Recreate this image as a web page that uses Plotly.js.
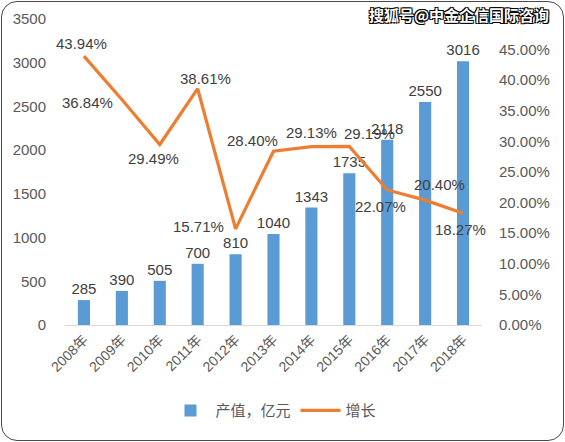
<!DOCTYPE html>
<html>
<head>
<meta charset="utf-8">
<script src="https://cdn.plot.ly/plotly-3.0.1.min.js"></script>
<style>
html,body{margin:0;padding:0;background:#fff;}
#wrap{position:relative;width:565px;height:442px;}
#chart{width:565px;height:442px;}
#frame{position:absolute;left:1px;top:1px;width:563px;height:440px;border:1.5px solid #4a4a4a;border-radius:16px;pointer-events:none;box-sizing:border-box;}
</style>
</head>
<body>
<div id="wrap"><div id="chart"></div><div id="frame"></div></div>
<script>
const years = ['2008年','2009年','2010年','2011年','2012年','2013年','2014年','2015年','2016年','2017年','2018年'];
const output = [285, 390, 505, 700, 810, 1040, 1343, 1735, 2118, 2550, 3016];
const growth = [43.94, 36.84, 29.49, 38.61, 15.71, 28.40, 29.13, 29.19, 22.07, 20.40, 18.27];
const seriesNames = ['产值，亿元', '增长'];
const watermark = '搜狐号@中金企信国际咨询';
// pixel offsets of the growth labels relative to their points (layout only)
const labelShiftX = [-2, -34, -6, 8, -37, -21, 0, 20, -7, 14, -3];
const labelShiftY = [13, -3, -14, 10, 2, 11, 14, 13, -17, 16, -16];

const font = 'Liberation Sans, Noto Sans CJK SC, sans-serif';
const traces = [
  {
    type: 'bar', x: years, y: output, name: seriesNames[0],
    marker: {color: '#5B9BD5'}, width: 0.32,
    text: output.map(String), textposition: 'outside', cliponaxis: false, constraintext: 'none',
    textfont: {family: font, size: 15, color: '#404040'},
    hoverinfo: 'skip'
  },
  {
    type: 'scatter', mode: 'lines', x: years, y: growth, yaxis: 'y2', name: seriesNames[1],
    line: {color: '#ED7D31', width: 3.2},
    hoverinfo: 'skip'
  }
];
const growthAnnotations = years.map((yr, i) => ({
  x: yr, y: growth[i], xref: 'x', yref: 'y2',
  text: growth[i].toFixed(2) + '%', showarrow: false,
  xshift: labelShiftX[i], yshift: labelShiftY[i],
  font: {family: font, size: 15, color: '#404040'}
}));
const layout = {
  width: 565, height: 442,
  margin: {l: 65, r: 83, t: 19, b: 117},
  paper_bgcolor: '#fff', plot_bgcolor: '#fff',
  font: {family: font, size: 15, color: '#595959'},
  showlegend: true,
  legend: {orientation: 'h', x: 0.5, xanchor: 'center', y: -0.28, yanchor: 'middle', font: {size: 15, color: '#595959'}, itemwidth: 40},
  xaxis: {
    type: 'category', range: [-0.5, years.length - 0.5], showgrid: false, showline: true, linecolor: '#D9D9D9', linewidth: 1,
    tickangle: -45, tickfont: {size: 14, color: '#595959'}, ticks: '', zeroline: false
  },
  yaxis: {
    range: [0, 3500], dtick: 500, showgrid: false, zeroline: false, showline: false,
    ticks: '', ticklabelstandoff: 18, tickfont: {size: 15, color: '#595959'}
  },
  yaxis2: {
    overlaying: 'y', side: 'right', range: [0, 50], dtick: 5, tickformat: '.2f', ticksuffix: '%',
    showgrid: false, zeroline: false, showline: false, ticks: '', ticklabelstandoff: 16,
    tickfont: {size: 15, color: '#595959'}
  },
  annotations: growthAnnotations.concat([{
    xref: 'paper', yref: 'paper', x: 1.165, y: 1.015, xanchor: 'right', yanchor: 'middle',
    text: '<b>' + watermark + '</b>', showarrow: false,
    font: {family: 'Noto Sans CJK SC, sans-serif', size: 15, color: '#ffffff',
           shadow: '1px 1px 0 #000, -1px -1px 0 #000, 1px -1px 0 #000, -1px 1px 0 #000'}
  }])
};
Plotly.newPlot('chart', traces, layout, {displayModeBar: false, staticPlot: true});
</script>
</body>
</html>
